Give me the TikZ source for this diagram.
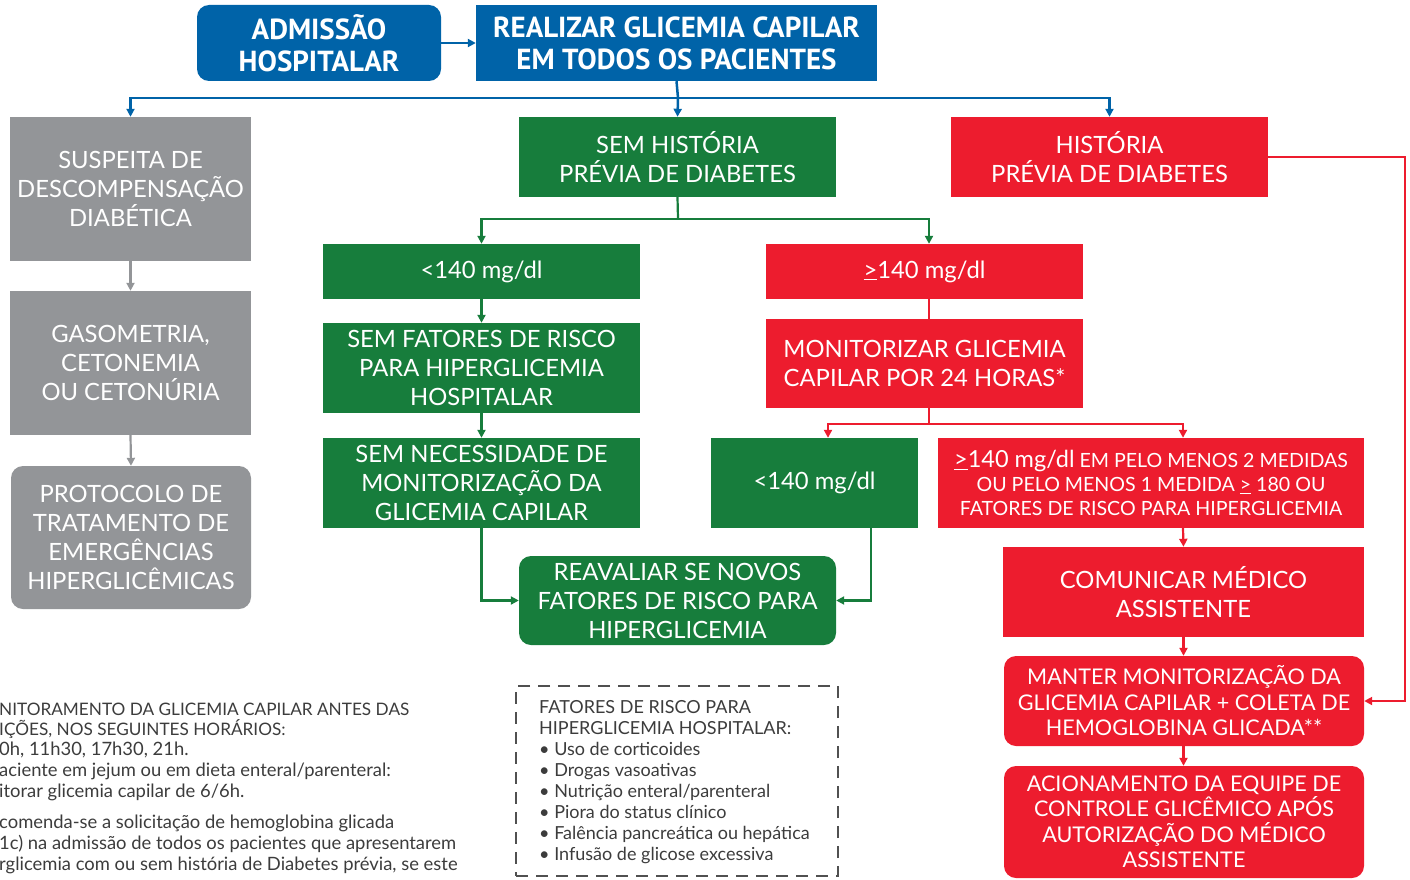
\documentclass[tikz,border=0pt]{standalone}
\usepackage{fontspec}
\setmainfont{Lato}
\newfontfamily\hdrfont{PT Sans}
\usetikzlibrary{arrows.meta}
\definecolor{cblue}{RGB}{0,99,168}
\definecolor{cgreen}{RGB}{23,125,60}
\definecolor{cred}{RGB}{237,28,46}
\definecolor{cgray}{RGB}{147,149,152}
\definecolor{ctext}{RGB}{60,60,60}
\tikzset{
  bx/.style={inner sep=0pt, align=center, text=white, font=\fontsize{23.8}{29}\selectfont},
  hb/.style={bx, fill=cblue, font=\hdrfont\bfseries\fontsize{29}{32}\selectfont},
  gb/.style={bx, fill=cgray},
  grb/.style={bx, fill=cgreen},
  rb/.style={bx, fill=cred},
  rnd/.style={rounded corners=12pt},
  tip/.style={-{Triangle[length=8pt,width=8pt]}},
  bl/.style={draw=cblue, line width=2.5pt},
  gl/.style={draw=cgreen, line width=2.2pt},
  rl/.style={draw=cred, line width=2.2pt},
  gyl/.style={draw=cgray, line width=2.2pt},
  note/.style={inner sep=0pt, anchor=west, text=ctext, font=\fontsize{17.2}{21}\selectfont},
  notel/.style={note, font=\fontsize{18.4}{21}\selectfont}
}
\begin{document}
\begin{tikzpicture}[x=1pt,y=-1pt]
\useasboundingbox (0,0) rectangle (1410,880);
\clip (0,0) rectangle (1410,880);
% top
\node[hb, rnd, minimum width=244pt, minimum height=76pt] (adm) at (319,43) {ADMISSÃO\\HOSPITALAR};
\node[hb, minimum width=401pt, minimum height=76pt] (real) at (676.5,43) {REALIZAR GLICEMIA CAPILAR\\EM TODOS OS PACIENTES};
% gray column
\node[gb, minimum width=241pt, minimum height=144pt] (susp) at (130.5,189) {SUSPEITA DE\\DESCOMPENSAÇÃO\\DIABÉTICA};
\node[gb, minimum width=241pt, minimum height=144pt] (gaso) at (130.5,363) {GASOMETRIA,\\CETONEMIA\\OU CETONÚRIA};
\node[gb, rnd, minimum width=240pt, minimum height=143pt] (prot) at (131,537.5) {PROTOCOLO DE\\TRATAMENTO DE\\EMERGÊNCIAS\\HIPERGLICÊMICAS};
% green / red
\node[grb, minimum width=317pt, minimum height=80pt] (semh) at (677.5,157) {SEM HISTÓRIA\\PRÉVIA DE DIABETES};
\node[rb, minimum width=317pt, minimum height=80pt] (hist) at (1109.5,157) {HISTÓRIA\\PRÉVIA DE DIABETES};
\node[grb, minimum width=317pt, minimum height=55pt] (lt1) at (481.5,271.5) {<140 mg/dl};
\node[rb, minimum width=317pt, minimum height=55pt] (ge1) at (924.5,271.5) {\underline{>}140 mg/dl};
\node[grb, minimum width=317pt, minimum height=90pt] (semf) at (481.5,368) {SEM FATORES DE RISCO\\PARA HIPERGLICEMIA\\HOSPITALAR};
\node[grb, minimum width=317pt, minimum height=90pt] (semn) at (481.5,483) {SEM NECESSIDADE DE\\MONITORIZAÇÃO DA\\GLICEMIA CAPILAR};
\node[rb, minimum width=317pt, minimum height=89pt] (mon) at (924.5,363.5) {MONITORIZAR GLICEMIA\\CAPILAR POR 24 HORAS*};
\node[grb, minimum width=207pt, minimum height=90pt] (lt2) at (814.5,483) {<140 mg/dl};
\node[rb, minimum width=426pt, minimum height=90pt, font=\fontsize{19.6}{24}\selectfont] (ge2) at (1151,483) {{\fontsize{23.5}{24}\selectfont\underline{>}140 mg/dl} EM PELO MENOS 2 MEDIDAS\\OU PELO MENOS 1 MEDIDA \underline{>} 180 OU\\FATORES DE RISCO PARA HIPERGLICEMIA};
\node[grb, rnd, minimum width=317pt, minimum height=89pt] (reav) at (677.5,600.5) {REAVALIAR SE NOVOS\\FATORES DE RISCO PARA\\HIPERGLICEMIA};
\node[rb, minimum width=361pt, minimum height=90pt] (com) at (1183.5,592) {COMUNICAR MÉDICO\\ASSISTENTE};
\node[rb, rnd, minimum width=360pt, minimum height=90pt, font=\fontsize{21.6}{25.5}\selectfont] (man) at (1184,701) {MANTER MONITORIZAÇÃO DA\\GLICEMIA CAPILAR + COLETA DE\\HEMOGLOBINA GLICADA**};
\node[rb, rnd, minimum width=360pt, minimum height=112pt, font=\fontsize{21.6}{25.5}\selectfont] (acio) at (1184,822) {ACIONAMENTO DA EQUIPE DE\\CONTROLE GLICÊMICO APÓS\\AUTORIZAÇÃO DO MÉDICO\\ASSISTENTE};
% dashed box
\node[draw=ctext!90, line width=2pt, dash pattern=on 12pt off 8pt, minimum width=322pt, minimum height=190pt, inner sep=0pt] (fr) at (677,781) {};
\node[inner sep=0pt, anchor=north west, align=left, text=ctext, font=\fontsize{18}{21}\selectfont] (frt) at (539,700) {FATORES DE RISCO PARA\\HIPERGLICEMIA HOSPITALAR:\\• Uso de corticoides\\• Drogas vasoativas\\• Nutrição enteral/parenteral\\• Piora do status clínico\\• Falência pancreática ou hepática\\• Infusão de glicose excessiva};
% left notes (cropped in the reference)
\node[note] (n1) at (-1,709) {NITORAMENTO DA GLICEMIA CAPILAR ANTES DAS};
\node[note] (n2) at (-1,729.5) {IÇÕES, NOS SEGUINTES HORÁRIOS:};
\node[notel] (n3) at (-1,750) {0h, 11h30, 17h30, 21h.};
\node[notel] (n4) at (-1,771) {aciente em jejum ou em dieta enteral/parenteral:};
\node[notel] (n5) at (-1,792) {itorar glicemia capilar de 6/6h.};
\node[notel] (n6) at (-1,823) {comenda-se a solicitação de hemoglobina glicada};
\node[notel] (n7) at (-1,844) {1c) na admissão de todos os pacientes que apresentarem};
\node[notel] (n8) at (-1,865) {rglicemia com ou sem história de Diabetes prévia, se este};
% connectors blue
\draw[bl, tip] (adm.east) -- (real.west);
\coordinate (b) at (678,98);
\draw[bl] (real.south) -- (b);
\draw[bl, tip] (b) -| (susp.north);
\draw[bl, tip] (b) -- (semh.north);
\draw[bl, tip] (b) -| (hist.north);
% gray
\draw[gyl, tip] (susp.south) -- (gaso.north);
\draw[gyl, tip] (gaso.south) -- (prot.north);
% green
\coordinate (g) at (678,219);
\draw[gl] (semh.south) -- (g);
\draw[gl, tip] (g) -| (lt1.north);
\draw[gl, tip] (g) -| ([xshift=4.5pt]ge1.north);
\draw[gl, tip] (lt1.south) -- (semf.north);
\draw[gl, tip] (semf.south) -- (semn.north);
\draw[gl, tip] (semn.south) |- (reav.west);
\draw[gl, tip] ([xshift=56.5pt]lt2.south) |- (reav.east);
% red
\draw[rl] ([xshift=4.5pt]ge1.south) -- ([xshift=4.5pt]mon.north);
\coordinate (r) at (929,424);
\draw[rl] ([xshift=4.5pt]mon.south) -- (r);
\draw[rl, tip] (r) -| ([xshift=13.5pt]lt2.north);
\draw[rl, tip] (r) -| ([xshift=32pt]ge2.north);
\draw[rl, tip] ([xshift=32pt]ge2.south) -- (com.north);
\draw[rl, tip] (com.south) -- ([xshift=-0.5pt]man.north);
\draw[rl, tip] ([xshift=-0.5pt]man.south) -- ([xshift=-0.5pt]acio.north);
\coordinate (rr) at (1405,157);
\draw[rl, tip] (hist.east) -- (rr) |- (man.east);
\end{tikzpicture}
\end{document}
